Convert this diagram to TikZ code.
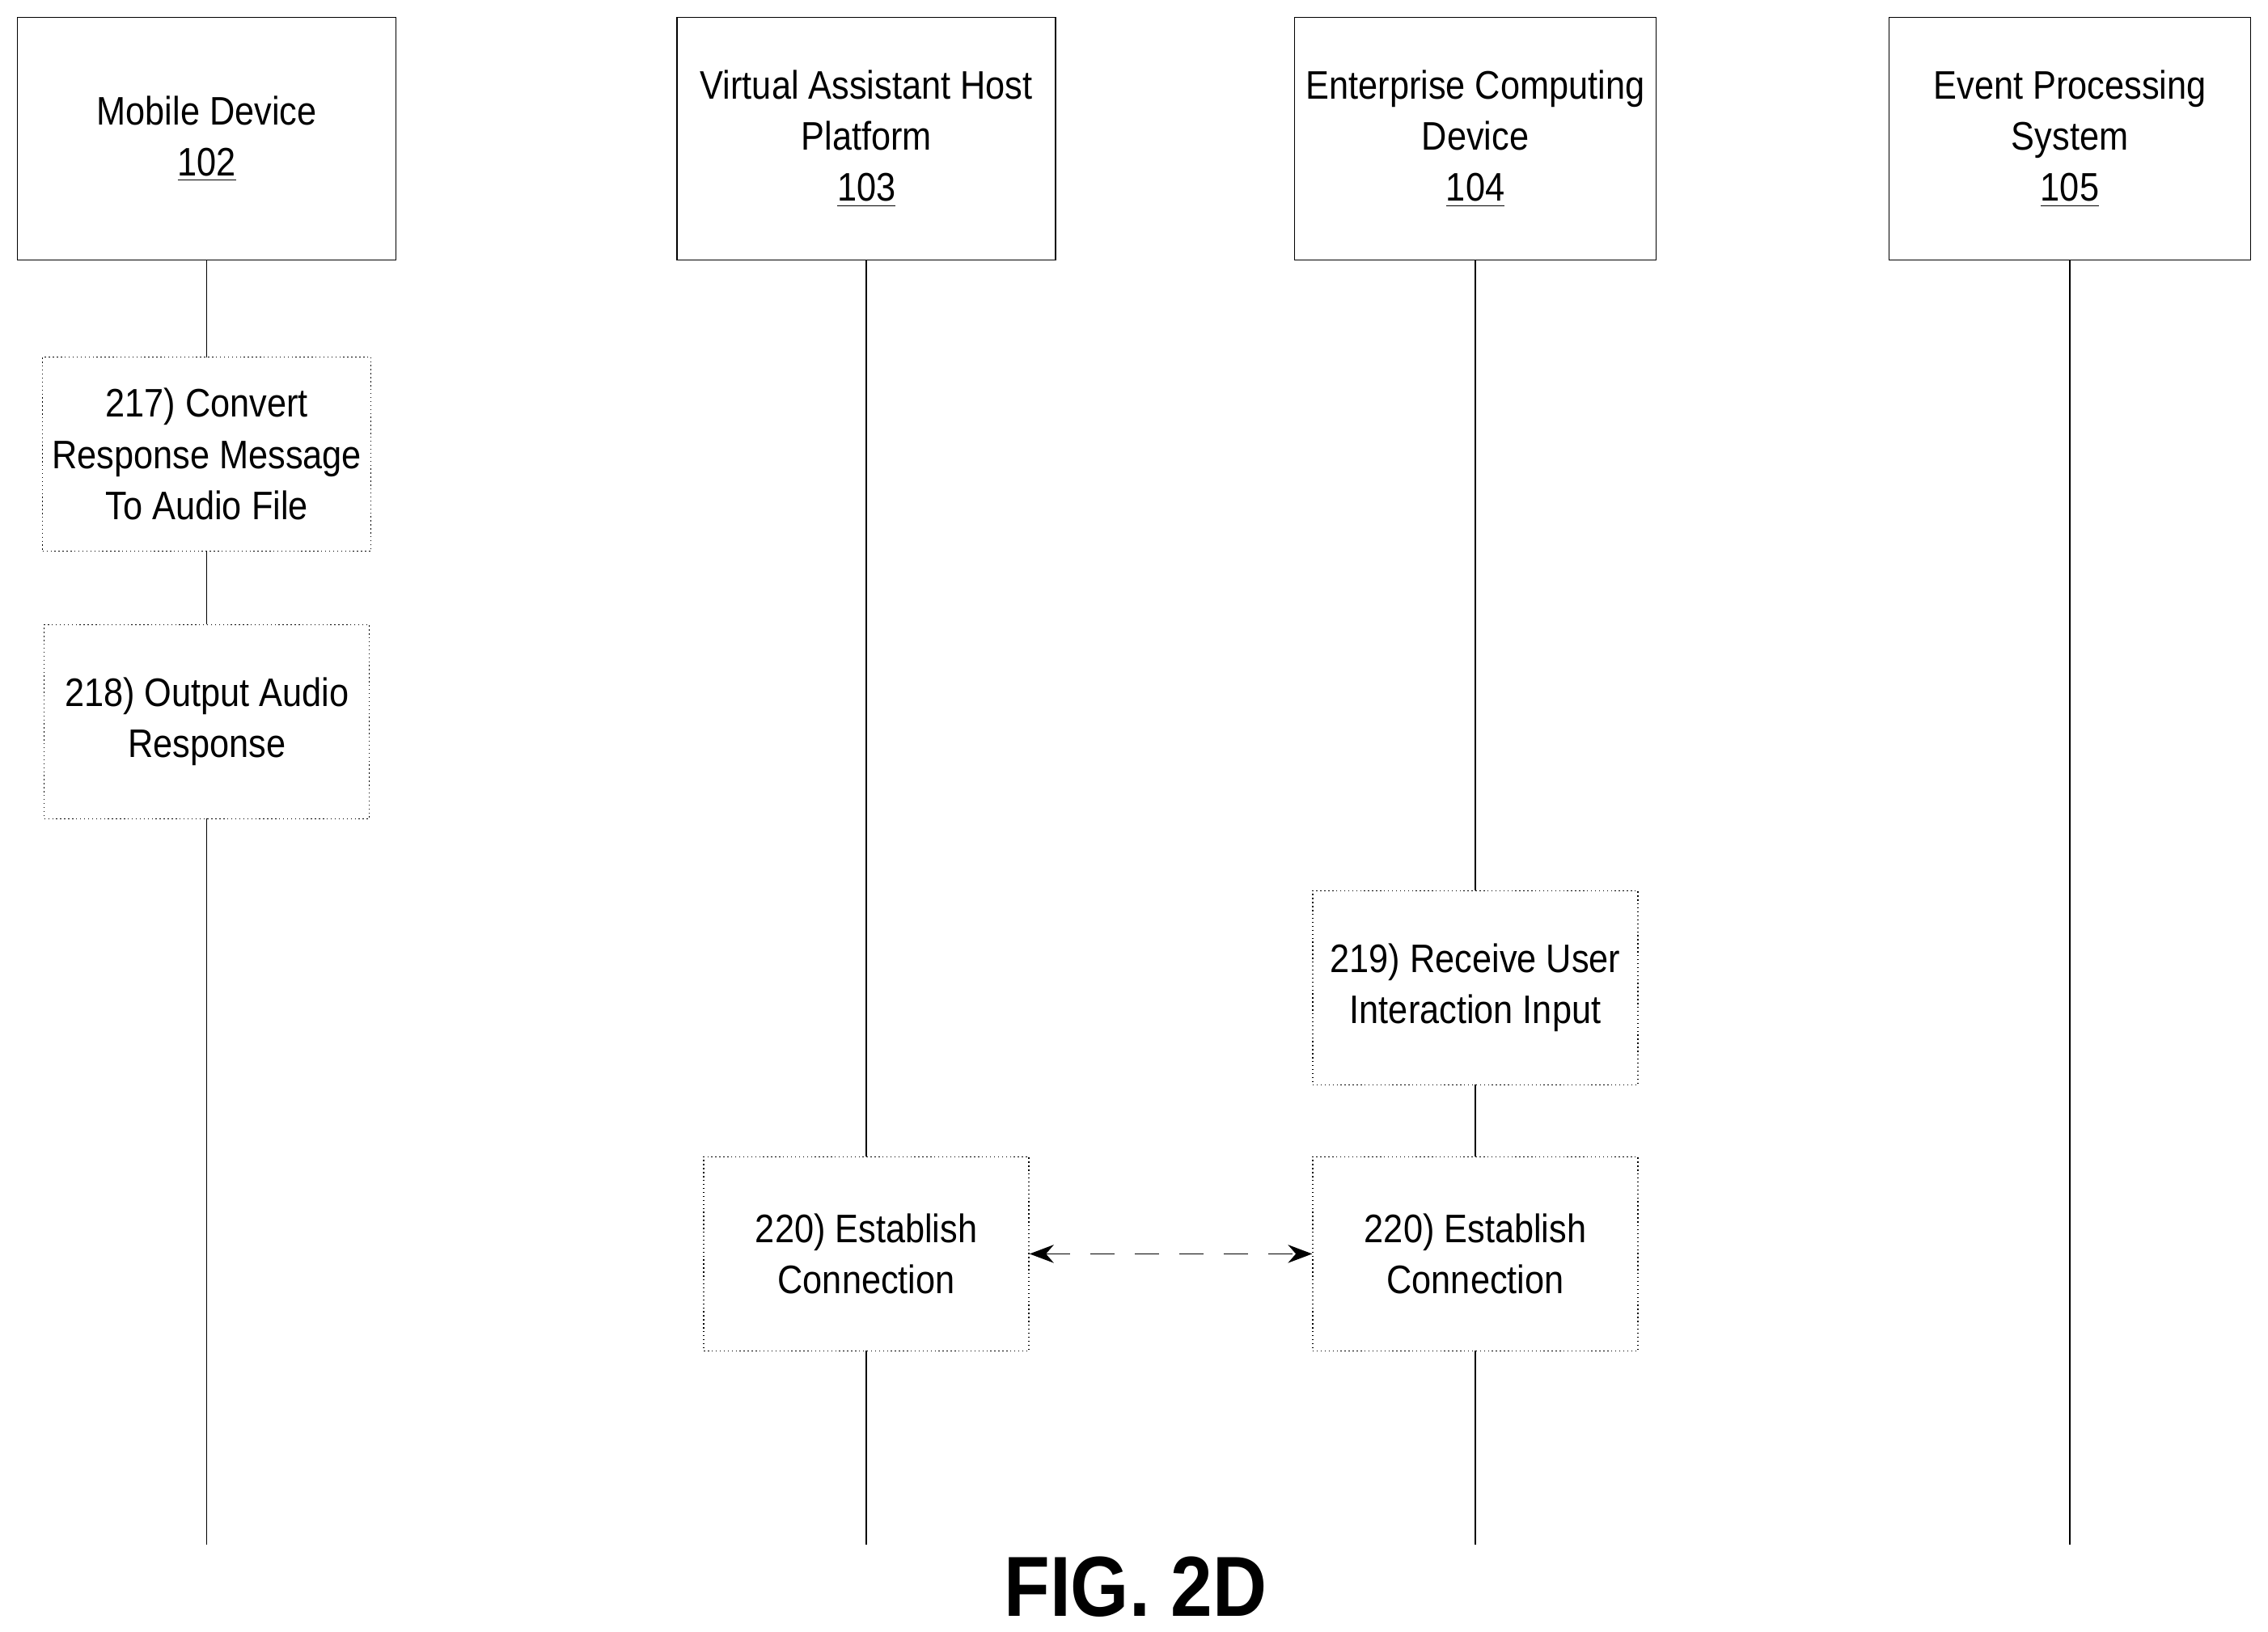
\documentclass[tikz,border=0pt]{standalone}
\usepackage{fontspec}
\setmainfont{Liberation Sans}[FakeStretch=0.88]
\usetikzlibrary{backgrounds,arrows.meta}
\tikzset{
  entity/.style={draw,thin,fill=white,minimum width=4.68cm,minimum height=3.0cm,align=center,font=\fontsize{14}{18}\selectfont},
  stepbox/.style={draw,thin,densely dotted,fill=white,minimum width=4.02cm,minimum height=2.4cm,align=center,font=\fontsize{14}{18}\selectfont},
  lifeline/.style={draw,thin}
}
\begin{document}
\begin{tikzpicture}[x=0.01788cm,y=-0.01788cm]
	\useasboundingbox (0,0) rectangle (1568,1128);
	% entities
	\node[entity] (md) at (143,96) {Mobile Device\\\underline{102}};
	\node[entity] (vah) at (599,96) {Virtual Assistant Host\\Platform\\\underline{103}};
	\node[entity,minimum width=4.47cm] (ecd) at (1020,96) {Enterprise Computing\\Device\\\underline{104}};
	\node[entity,minimum width=4.47cm] (eps) at (1431,96) {Event Processing\\System\\\underline{105}};
	% steps
	\node[stepbox] (s217) at (143,314) {217) Convert\\Response Message\\To Audio File};
	\node[stepbox] (s218) at (143,499) {218) Output Audio\\Response};
	\node[stepbox] (s219) at (1020,683) {219) Receive User\\Interaction Input};
	\node[stepbox] (s220a) at (599,867) {220) Establish\\Connection};
	\node[stepbox] (s220b) at (1020,867) {220) Establish\\Connection};
	% lifeline ends
	\coordinate (mdend) at (143,1068);
	\coordinate (vahend) at (599,1068);
	\coordinate (ecdend) at (1020,1068);
	\coordinate (epsend) at (1431,1068);
	\begin{scope}[on background layer]
	\draw[lifeline] (md.south) -- (mdend);
	\draw[lifeline] (vah.south) -- (vahend);
	\draw[lifeline] (ecd.south) -- (ecdend);
	\draw[lifeline] (eps.south) -- (epsend);
	\end{scope}
	\draw[thin,{Stealth[length=3mm]}-{Stealth[length=3mm]},dash pattern=on 3mm off 2.5mm] (s220a.east) -- (s220b.west);
	\node[font=\bfseries\fontsize{30}{34}\selectfont] (fig) at (785,1097) {FIG. 2D};
\end{tikzpicture}
\end{document}
